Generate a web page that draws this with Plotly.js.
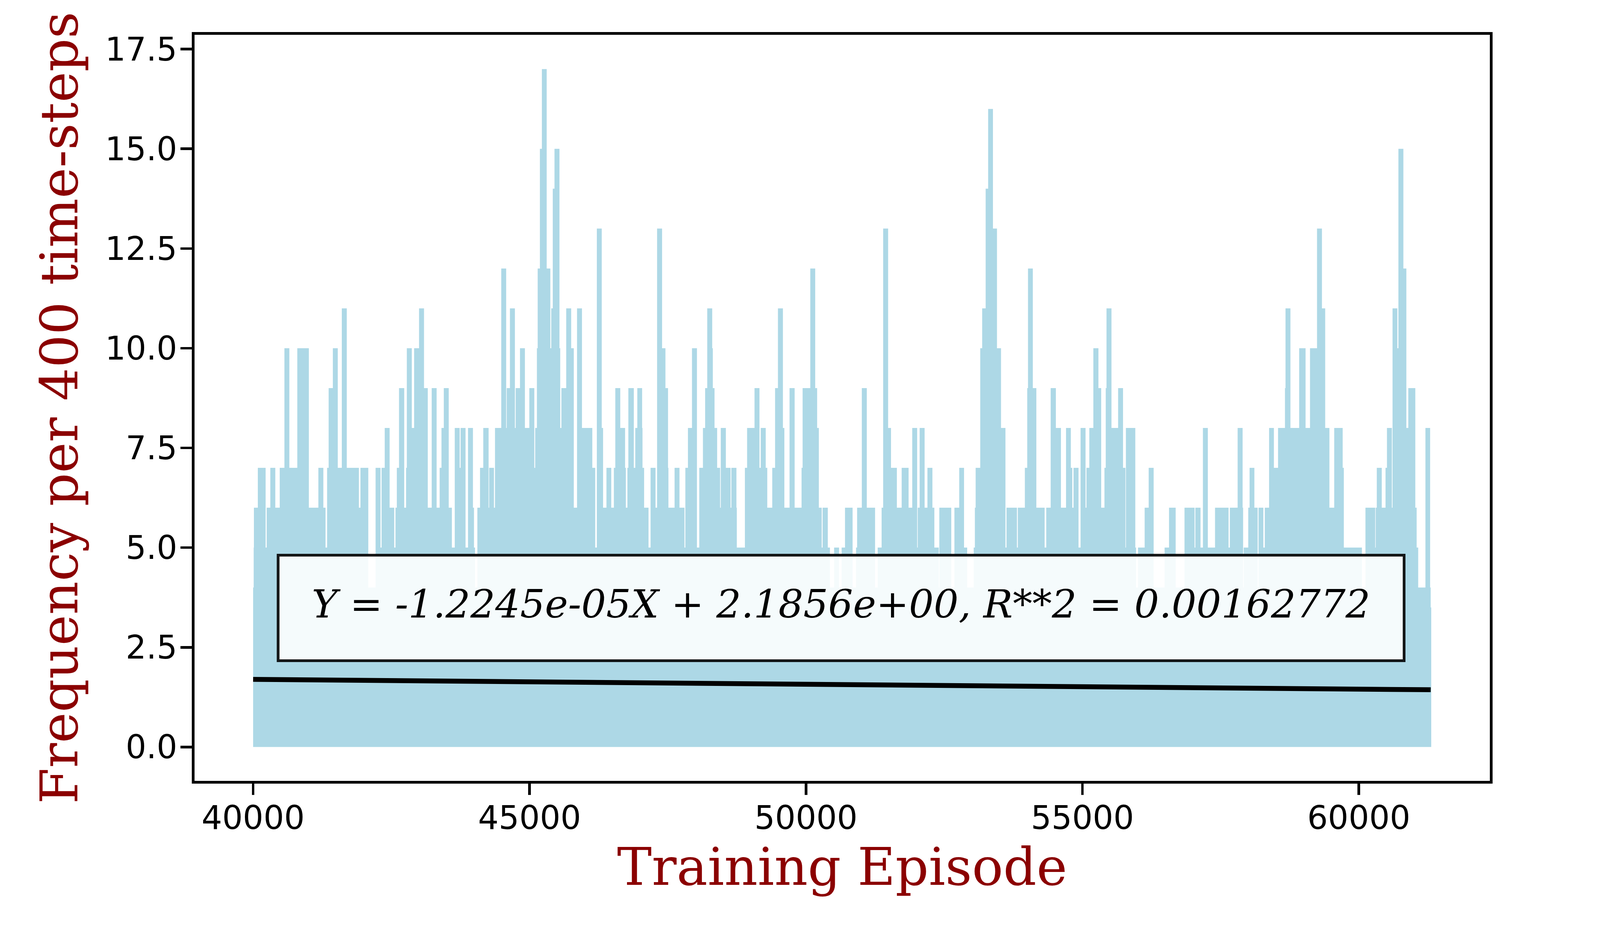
<!DOCTYPE html>
<html>
<head>
<meta charset="utf-8">
<script src="https://cdn.plot.ly/plotly-3.0.1.min.js"></script>
<style>html,body{margin:0;padding:0;background:#fff;}#chart{width:4200px;height:2400px;}</style>
</head>
<body>
<div id="chart"></div>
<script>
// Training episode at which the per-episode frequency envelope changes, and the envelope level from there on
const episodeBreaks = [
40000,40010,40014,40085,40226,40245,40311,40401,40481,40566,40655,40799,41008,41180,41270,41310,41338,41366,41442,41531,
41604,41694,41913,41941,42083,42215,42304,42323,42380,42469,42552,42575,42599,42639,42733,42766,42780,42870,42912,43001,
43091,43159,43230,43319,43374,43407,43449,43538,43595,43647,43736,43753,43842,43887,43976,43995,44014,44056,44104,44163,
44259,44269,44356,44375,44488,44577,44587,44645,44735,44749,44827,44916,44996,45086,45102,45133,45147,45187,45223,45310,
45376,45392,45420,45451,45541,45555,45576,45663,45753,45800,45859,45948,46135,46188,46217,46306,46330,46391,46478,46525,
46551,46641,46728,46742,46770,46787,46886,46912,46949,47036,47043,47072,47152,47189,47279,47307,47397,47458,47505,47512,
47623,47712,47802,47818,47865,47938,48028,48070,48136,48176,48214,48304,48315,48346,48393,48447,48459,48551,48636,48650,
48742,48749,48895,48935,49069,49159,49182,49272,49300,49390,49441,49493,49583,49609,49703,49795,49920,49939,50078,50167,
50202,50233,50285,50301,50395,50433,50509,50598,50645,50706,50843,50906,50925,51010,51100,51250,51297,51368,51396,51486,
51538,51644,51731,51856,51922,52011,52021,52056,52146,52197,52287,52322,52402,52412,52628,52685,52772,52859,52916,53034,
53055,53069,53152,53187,53250,53295,53382,53455,53528,53608,53627,53816,53832,53959,54002,54016,54103,54167,54317,54346,
54426,54520,54612,54704,54791,54817,54840,54930,54967,55057,55073,55125,55198,55290,55340,55399,55422,55436,55526,55646,
55735,55778,55787,55957,55971,56006,56126,56199,56289,56487,56567,56687,56847,57029,57043,57137,57180,57269,57399,57644,
57667,57808,57898,57907,57918,58000,58024,58111,58170,58186,58273,58299,58377,58464,58539,58664,58674,58763,58921,59037,
59117,59244,59333,59392,59468,59555,59708,59729,60056,60120,60297,60306,60325,60415,60483,60509,60598,60610,60697,60716,
60806,60860,60895,61022,61046,61074,61205,61290,61300,61310
];
const frequencyLevels = [
4,5,6,7,5,6,7,6,7,10,7,10,6,7,6,5,7,9,10,7,
11,7,6,7,4,7,5,7,8,6,5,6,7,9,6,7,10,8,10,11,
9,6,9,6,7,8,9,6,5,8,7,8,5,8,6,5,4,6,7,8,
6,7,6,8,12,8,9,11,8,9,10,8,9,7,8,10,12,15,17,12,
10,11,14,15,10,8,9,11,10,6,11,8,7,5,13,8,6,7,6,7,
9,8,7,6,7,9,7,8,9,8,7,6,5,7,6,13,10,9,7,6,
7,6,5,7,8,10,5,7,8,9,11,10,9,8,7,6,8,7,6,7,
6,5,7,8,9,7,8,7,6,7,9,11,8,6,9,6,7,9,12,9,
8,6,5,6,5,4,5,4,5,6,4,5,6,9,6,4,5,6,13,8,
7,6,7,6,8,5,6,8,6,7,6,5,4,6,4,6,7,5,4,5,
6,7,10,11,14,16,13,10,8,5,6,5,6,7,9,12,9,6,5,6,
9,8,6,8,7,6,7,5,8,6,7,8,10,9,6,7,9,11,8,9,
7,5,8,5,4,5,6,7,4,5,6,4,6,5,6,5,8,5,6,5,
6,8,6,4,5,6,7,6,4,6,5,6,8,7,8,9,11,8,10,8,
10,13,11,8,6,8,7,5,4,6,5,6,7,6,7,8,6,11,10,15,
12,8,9,6,5,4,8,4,3.5,3.5
];
// Linear fit drawn between the first and last episode
const fitEpisodes = [40000, 61300];
const fitValues = [1.696, 1.435];
const fitLabel = "Y = -1.2245e-05X + 2.1856e+00, R**2 = 0.00162772";
const xTickVals = [40000, 45000, 50000, 55000, 60000];
const xTickText = ["40000", "45000", "50000", "55000", "60000"];
const yTickVals = [0, 2.5, 5, 7.5, 10, 12.5, 15, 17.5];
const yTickText = ["0.0", "2.5", "5.0", "7.5", "10.0", "12.5", "15.0", "17.5"];
const xTitle = "Training Episode";
const yTitle = "Frequency per 400 time-steps";

const traces = [
  {
    type: "scatter", mode: "lines",
    x: episodeBreaks, y: frequencyLevels,
    line: {shape: "hv", color: "#ADD8E6", width: 0},
    fill: "tozeroy", fillcolor: "#ADD8E6",
    hoverinfo: "skip", showlegend: false
  },
  {
    type: "scatter", mode: "lines",
    x: fitEpisodes, y: fitValues,
    line: {color: "#000000", width: 12.5},
    hoverinfo: "skip", showlegend: false
  }
];

const axisCommon = {
  showgrid: false, zeroline: false,
  showline: true, linecolor: "#000000", linewidth: 6.7, mirror: true,
  ticks: "outside", ticklen: 29, tickwidth: 6.7, tickcolor: "#000000",
  tickfont: {family: "DejaVu Sans", size: 83, color: "#000000"},
  tickmode: "array", automargin: false
};

const layout = {
  width: 4200, height: 2400,
  margin: {l: 498, r: 386, t: 89, b: 402, pad: 0},
  paper_bgcolor: "#ffffff", plot_bgcolor: "#ffffff",
  showlegend: false,
  xaxis: Object.assign({}, axisCommon, {
    range: [38940, 62370],
    tickvals: xTickVals, ticktext: xTickText,
    ticklabelstandoff: -12,
    title: {text: xTitle, font: {family: "DejaVu Serif", size: 133, color: "#8B0000"}, standoff: 20}
  }),
  yaxis: Object.assign({}, axisCommon, {
    range: [-0.85, 17.86],
    tickvals: yTickVals, ticktext: yTickText,
    ticklabelstandoff: -8,
    title: {text: yTitle, font: {family: "DejaVu Serif", size: 133, color: "#8B0000"}, standoff: 28}
  }),
  shapes: [{
    type: "rect", xref: "x", yref: "y",
    x0: 40452, x1: 60819, y0: 2.165, y1: 4.809,
    line: {color: "rgba(0,0,0,0.9)", width: 7},
    fillcolor: "rgba(255,255,255,0.88)",
    layer: "above"
  }],
  annotations: [{
    xref: "x", yref: "y", x: 50636, y: 3.487, yshift: 10,
    text: "<i>" + fitLabel + "</i>",
    showarrow: false, xanchor: "center", yanchor: "middle",
    font: {family: "DejaVu Serif", size: 100, color: "#000000", style: "italic"}
  }]
};

Plotly.newPlot("chart", traces, layout, {staticPlot: true, displayModeBar: false});
</script>
</body>
</html>
